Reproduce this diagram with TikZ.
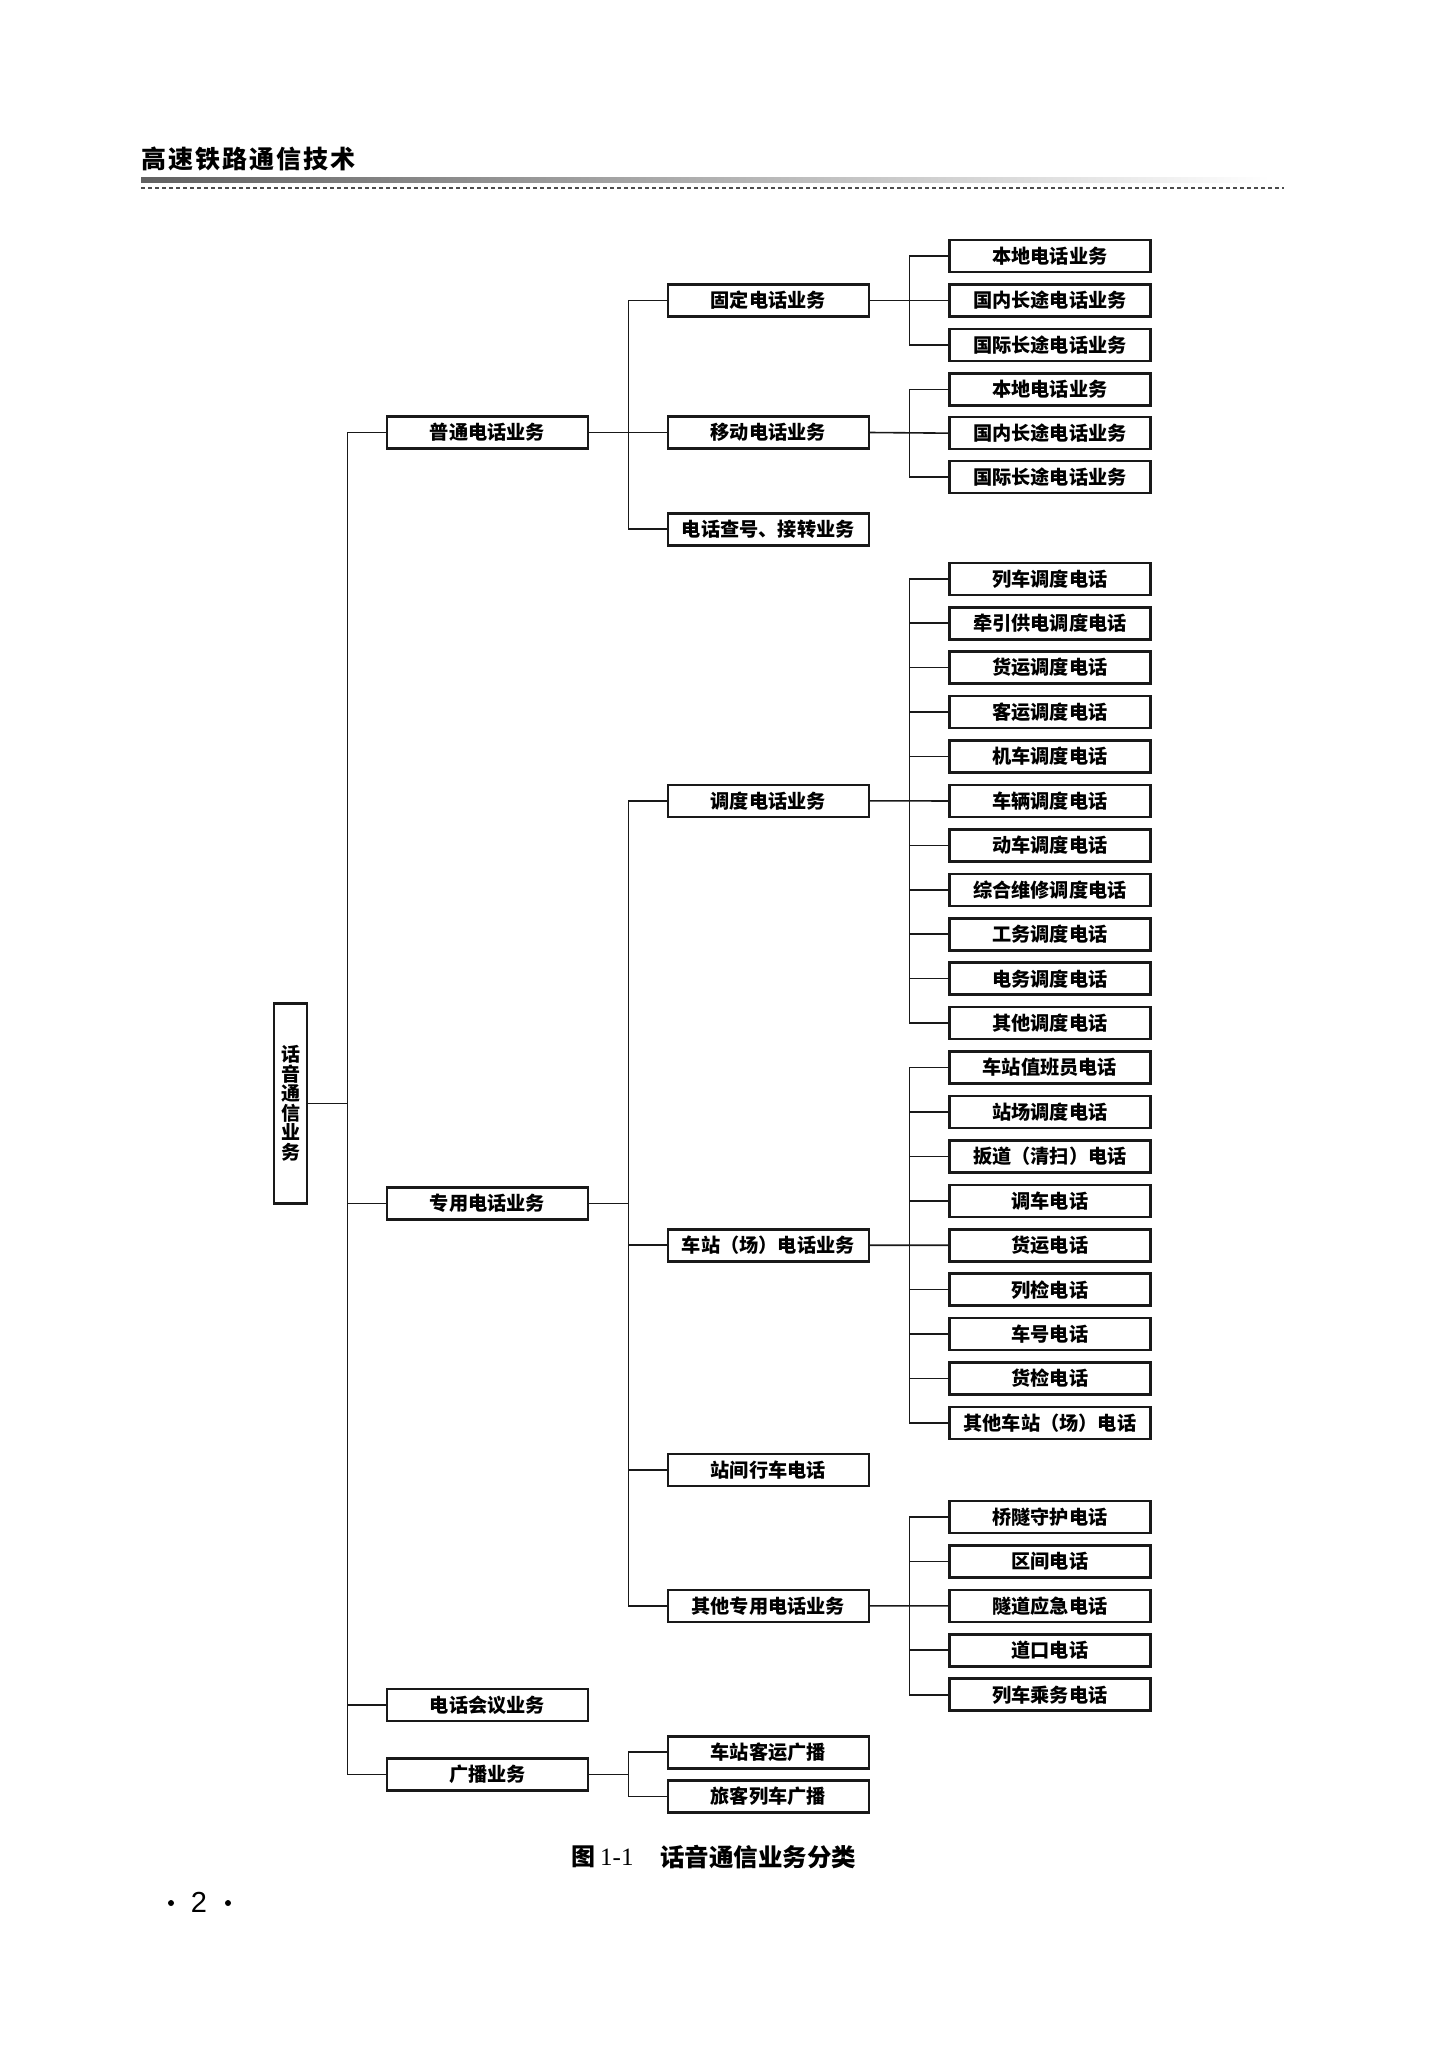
\documentclass[tikz,border=0pt]{standalone}
\usepackage{fontspec}
\setmainfont{Liberation Serif}
\newfontfamily\cjk{Noto Sans CJK SC}
\newfontfamily\cjkhead[LetterSpace=8]{Noto Sans CJK SC}
\newfontfamily\numfont{Liberation Sans}
\begin{document}
\begin{tikzpicture}[x=1pt,y=-1pt,
  box/.style={draw=black!90, line width=2.6pt, minimum width=201pt, minimum height=32pt,
    inner sep=0pt, fill=white, font=\cjk\bfseries\fontsize{19.2}{20}\selectfont},
  conn/.style={line width=1.6pt, draw=black!90},
]
\useasboundingbox[fill=white] (0,0) rectangle (1449,2048);

% header
\node[anchor=west, inner sep=0pt, font=\cjkhead\bfseries\fontsize{25}{25}\selectfont] (title) at (141,159) {高速铁路通信技术};
\shade[left color=black!62, right color=white] (141,177) rectangle (1270,182);
\draw[black!70, line width=2pt, dash pattern=on 4pt off 3pt] (141,187.5) -- (1284,187.5);

% junction x positions
\coordinate (jt) at (347.6,0);
\coordinate (j2) at (628.5,0);
\coordinate (j3) at (909.4,0);

% root
\node[box, minimum width=33pt, minimum height=200pt, align=center,
  font=\cjk\bfseries\fontsize{19}{19.5}\selectfont] (root) at (290.5,1103.5) {话\\音\\通\\信\\业\\务};

% level 1
\node[box] (l1a) at (487.4,432.5) {普通电话业务};
\node[box] (l1b) at (487.4,1203.4) {专用电话业务};
\node[box] (l1c) at (487.4,1705.1) {电话会议业务};
\node[box] (l1d) at (487.4,1774.3) {广播业务};

% level 2
\node[box] (l2a) at (768.3,300.5) {固定电话业务};
\node[box] (l2b) at (768.3,432.5) {移动电话业务};
\node[box] (l2c) at (768.3,529.2) {电话查号、接转业务};
\node[box] (l2d) at (768.3,800.9) {调度电话业务};
\node[box] (l2e) at (768.3,1245.2) {车站（场）电话业务};
\node[box] (l2f) at (768.3,1469.9) {站间行车电话};
\node[box] (l2g) at (768.3,1605.8) {其他专用电话业务};
\node[box] (l2h) at (768.3,1752.2) {车站客运广播};
\node[box] (l2i) at (768.3,1796.6) {旅客列车广播};

% level 3
\foreach \t [count=\i] in {本地电话业务,国内长途电话业务,国际长途电话业务}
  \node[box] (fa\i) at (1049.9,{256.1+44.4*(\i-1)}) {\t};
\foreach \t [count=\i] in {本地电话业务,国内长途电话业务,国际长途电话业务}
  \node[box] (mb\i) at (1049.9,{389.4+43.75*(\i-1)}) {\t};
\foreach \t [count=\i] in {列车调度电话,牵引供电调度电话,货运调度电话,客运调度电话,机车调度电话,车辆调度电话,动车调度电话,综合维修调度电话,工务调度电话,电务调度电话,其他调度电话}
  \node[box] (dd\i) at (1049.9,{578.8+44.43*(\i-1)}) {\t};
\foreach \t [count=\i] in {车站值班员电话,站场调度电话,扳道（清扫）电话,调车电话,货运电话,列检电话,车号电话,货检电话,其他车站（场）电话}
  \node[box] (cz\i) at (1049.9,{1067.5+44.43*(\i-1)}) {\t};
\foreach \t [count=\i] in {桥隧守护电话,区间电话,隧道应急电话,道口电话,列车乘务电话}
  \node[box] (qt\i) at (1049.9,{1516.9+44.45*(\i-1)}) {\t};

% root to level 1
\draw[conn] (root.east) -- (root.east -| jt);
\draw[conn] (l1a.west) -- (l1a.west -| jt) -- (l1d.west -| jt) -- (l1d.west);
\draw[conn] (l1b.west) -- (l1b.west -| jt);
\draw[conn] (l1c.west) -- (l1c.west -| jt);

% level 1 to level 2
\draw[conn] (l1a.east) -- (l2b.west);
\draw[conn] (l2a.west) -- (l2a.west -| j2) -- (l2c.west -| j2) -- (l2c.west);
\draw[conn] (l1b.east) -- (l1b.east -| j2);
\draw[conn] (l2d.west) -- (l2d.west -| j2) -- (l2g.west -| j2) -- (l2g.west);
\draw[conn] (l2e.west) -- (l2e.west -| j2);
\draw[conn] (l2f.west) -- (l2f.west -| j2);
\draw[conn] (l1d.east) -- (l1d.east -| j2);
\draw[conn] (l2h.west) -- (l2h.west -| j2) -- (l2i.west -| j2) -- (l2i.west);

% level 2 to level 3
\draw[conn] (l2a.east) -- (fa2.west);
\draw[conn] (fa1.west) -- (fa1.west -| j3) -- (fa3.west -| j3) -- (fa3.west);
\draw[conn] (l2b.east) -- (mb2.west);
\draw[conn] (mb1.west) -- (mb1.west -| j3) -- (mb3.west -| j3) -- (mb3.west);
\draw[conn] (l2d.east) -- (dd6.west);
\draw[conn] (dd1.west) -- (dd1.west -| j3) -- (dd11.west -| j3) -- (dd11.west);
\foreach \i in {2,3,4,5,7,8,9,10} \draw[conn] (dd\i.west) -- (dd\i.west -| j3);
\draw[conn] (l2e.east) -- (cz5.west);
\draw[conn] (cz1.west) -- (cz1.west -| j3) -- (cz9.west -| j3) -- (cz9.west);
\foreach \i in {2,3,4,6,7,8} \draw[conn] (cz\i.west) -- (cz\i.west -| j3);
\draw[conn] (l2g.east) -- (qt3.west);
\draw[conn] (qt1.west) -- (qt1.west -| j3) -- (qt5.west -| j3) -- (qt5.west);
\foreach \i in {2,4} \draw[conn] (qt\i.west) -- (qt\i.west -| j3);

% caption
\node[anchor=west, inner sep=0pt] (capa) at (571,1857)
  {\cjk\bfseries\fontsize{24}{24}\selectfont 图\hspace{5pt}\rmfamily\mdseries\fontsize{25}{25}\selectfont 1-1};
\node[anchor=west, inner sep=0pt, font=\cjk\bfseries\fontsize{24.5}{24.5}\selectfont] (capb) at (660,1857) {话音通信业务分类};

% page number
\fill (171,1903) circle (3pt);
\node[inner sep=0pt, font=\numfont\fontsize{29}{29}\selectfont] (pg) at (199,1902) {2};
\fill (228,1903) circle (3pt);
\end{tikzpicture}
\end{document}
